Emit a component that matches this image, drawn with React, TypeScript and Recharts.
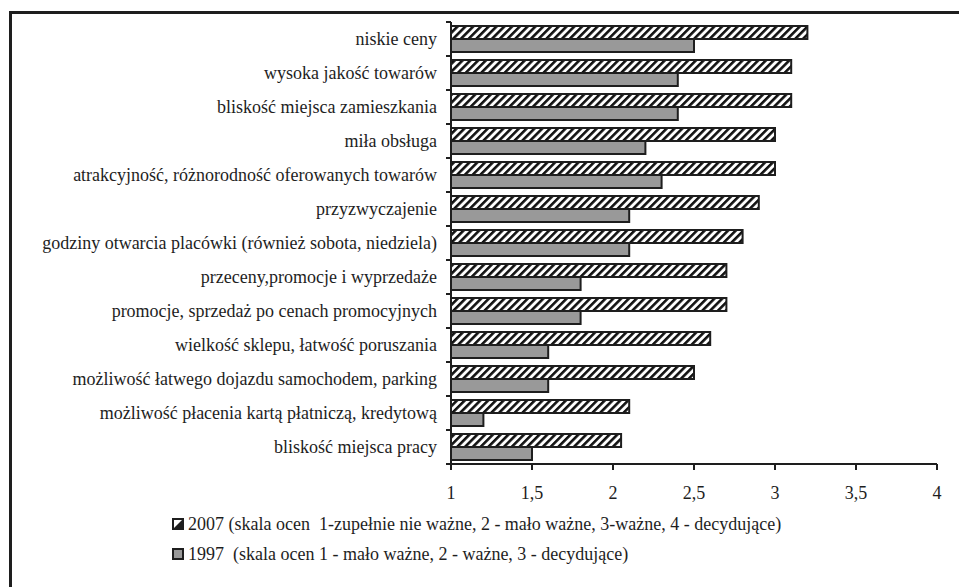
import React from 'react';
import { BarChart, Bar, XAxis, YAxis, Legend } from 'recharts';

const categories = [
  'niskie ceny',
  'wysoka jakość towarów',
  'bliskość miejsca zamieszkania',
  'miła obsługa',
  'atrakcyjność, różnorodność oferowanych towarów',
  'przyzwyczajenie',
  'godziny otwarcia placówki (również sobota, niedziela)',
  'przeceny,promocje i wyprzedaże',
  'promocje, sprzedaż po cenach promocyjnych',
  'wielkość sklepu, łatwość poruszania',
  'możliwość łatwego dojazdu samochodem, parking',
  'możliwość płacenia kartą płatniczą, kredytową',
  'bliskość miejsca pracy',
];
const values2007 = [3.2, 3.1, 3.1, 3.0, 3.0, 2.9, 2.8, 2.7, 2.7, 2.6, 2.5, 2.1, 2.05];
const values1997 = [2.5, 2.4, 2.4, 2.2, 2.3, 2.1, 2.1, 1.8, 1.8, 1.6, 1.6, 1.2, 1.5];
const xTicks = [1, 1.5, 2, 2.5, 3, 3.5, 4];
const legend2007 = '2007 (skala ocen  1-zupełnie nie ważne, 2 - mało ważne, 3-ważne, 4 - decydujące)';
const legend1997 = '1997  (skala ocen 1 - mało ważne, 2 - ważne, 3 - decydujące)';

const data = categories.map((c, i) => ({ name: c, v2007: values2007[i], v1997: values1997[i] }));

const FONT = '"Liberation Serif", "Times New Roman", serif';
const INK = '#1e1e1e';
const FS = 18;

const CategoryTick = (props: any) => {
  const { x, y, payload, index } = props;
  const half = payload && typeof payload.offset === 'number' && payload.offset > 0 ? payload.offset : 17;
  const axisX = x + 14;
  return (
    <g>
      <line x1={axisX - 5} x2={axisX} y1={y - half} y2={y - half} stroke={INK} strokeWidth={2} />
      {index === categories.length - 1 && (
        <line x1={axisX - 5} x2={axisX} y1={y + half} y2={y + half} stroke={INK} strokeWidth={2} />
      )}
      <text x={x} y={y} dy="0.35em" textAnchor="end" fontFamily={FONT} fontSize={FS} fill={INK}>
        {payload.value}
      </text>
    </g>
  );
};

const LegendContent = () => (
  <div style={{ fontFamily: FONT, fontSize: FS, color: INK, whiteSpace: 'pre' }}>
    <div style={{ height: 30, display: 'flex', alignItems: 'center' }}>
      <svg width={12} height={12} style={{ marginRight: 4 }}>
        <rect x={1} y={1} width={10} height={10} fill="#fff" stroke={INK} strokeWidth={2} />
        <polygon points="10,2 10,10 2,10" fill={INK} />
      </svg>
      <span>{legend2007}</span>
    </div>
    <div style={{ height: 30, display: 'flex', alignItems: 'center' }}>
      <svg width={12} height={12} style={{ marginRight: 4 }}>
        <rect x={1} y={1} width={10} height={10} fill="#999" stroke={INK} strokeWidth={2} />
      </svg>
      <span>{legend1997}</span>
    </div>
  </div>
);

export default function App() {
  return (
    <div style={{ position: 'absolute', left: 0, top: 0, width: 959, height: 587, overflow: 'hidden', background: '#fff' }}>
      <div style={{ position: 'absolute', left: 9, top: 11, width: 1100, height: 800, border: `3px solid ${INK}`, boxSizing: 'border-box' }} />
      <div style={{ position: 'absolute', left: 0, top: 0 }}>
        <BarChart
          width={959}
          height={587}
          data={data}
          layout="vertical"
          margin={{ top: 22, right: 22, bottom: 83, left: 0 }}
          barCategoryGap="12%"
          barGap={0}
        >
          <defs>
            <pattern id="hatch" patternUnits="userSpaceOnUse" width={5.5} height={5.5} patternTransform="rotate(45)">
              <rect x={0} y={0} width={5.5} height={5.5} fill="#fff" />
              <rect x={0} y={0} width={2.6} height={5.5} fill="#111" />
            </pattern>
          </defs>
          <XAxis
            type="number"
            dataKey="v2007"
            domain={[1, 4]}
            ticks={xTicks}
            interval={0}
            allowDataOverflow
            tickFormatter={(v: number) => String(v).replace('.', ',')}
            axisLine={{ stroke: INK, strokeWidth: 2 }}
            tickLine={{ stroke: INK, strokeWidth: 2 }}
            tickSize={6}
            tickMargin={16}
            tick={{ fontFamily: FONT, fontSize: FS, fill: INK }}
            height={40}
          />
          <XAxis
            xAxisId="top"
            orientation="top"
            type="number"
            domain={[1, 4]}
            height={0}
            tick={false}
            tickLine={false}
            axisLine={{ stroke: '#a0a0a0', strokeWidth: 2 }}
          />
          <YAxis
            type="category"
            dataKey="name"
            width={451}
            interval={0}
            tickLine={false}
            tickSize={5}
            tickMargin={9}
            axisLine={{ stroke: INK, strokeWidth: 2 }}
            tick={<CategoryTick />}
          />
          <YAxis
            yAxisId="right"
            orientation="right"
            type="category"
            dataKey="name"
            width={0}
            tick={false}
            tickLine={false}
            axisLine={{ stroke: '#a0a0a0', strokeWidth: 2 }}
          />
          <Legend
            layout="vertical"
            align="center"
            verticalAlign="middle"
            content={<LegendContent />}
            wrapperStyle={{ left: 172, top: 509, width: 780, height: 60 }}
          />
          <Bar dataKey="v2007" name="2007" fill="url(#hatch)" stroke={INK} strokeWidth={2} isAnimationActive={false} />
          <Bar dataKey="v1997" name="1997" fill="#999999" stroke={INK} strokeWidth={2} isAnimationActive={false} />
        </BarChart>
      </div>
    </div>
  );
}
